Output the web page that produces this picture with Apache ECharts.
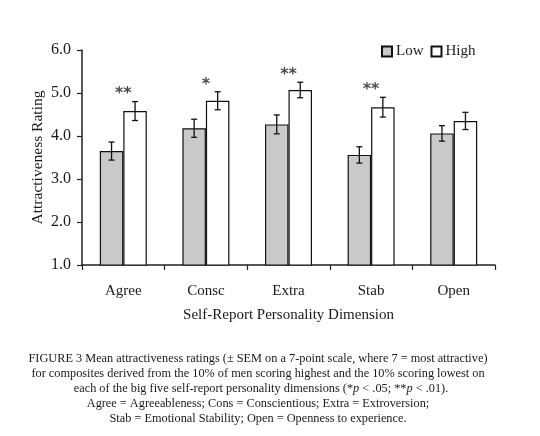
<!DOCTYPE html>
<html>
<head>
    <meta charset="utf-8">
    <title>Attractiveness by personality</title>
    <script src="https://cdn.jsdelivr.net/npm/echarts@6/dist/echarts.min.js"></script>
    <style>
        html, body { margin: 0; padding: 0; background: #fff; }
        #main { width: 540px; height: 436px; }
    </style>
</head>
<body>
<div id="main"></div>
<script>
    var categories = ['Agree', 'Consc', 'Extra', 'Stab', 'Open'];
    var lowMean = [3.65, 4.18, 4.27, 3.56, 4.06];
    var lowSem = [0.21, 0.21, 0.22, 0.19, 0.18];
    var highMean = [4.58, 4.82, 5.07, 4.67, 4.35];
    var highSem = [0.22, 0.21, 0.18, 0.23, 0.2];
    var stars = ['**', '*', '**', '**', ''];
    var yTicks = [1, 2, 3, 4, 5, 6];

    var serif = 'Liberation Serif';
    var barW = 23.5;

    var myChart = echarts.init(document.getElementById('main'));

    // error bar drawn around the centre of the low (-1) or high (+1) bar
    function errorBars(side) {
        return function (params, api) {
            var i = api.value(0);
            var top = api.coord([i, api.value(2)]);
            var bot = api.coord([i, api.value(3)]);
            var x = top[0] + side * barW / 2;
            var cap = 3;
            var st = {stroke: '#111', lineWidth: 1.3};
            return {
                type: 'group',
                children: [
                    {type: 'line', shape: {x1: x, y1: top[1], x2: x, y2: bot[1]}, style: st},
                    {type: 'line', shape: {x1: x - cap, y1: top[1], x2: x + cap, y2: top[1]}, style: st},
                    {type: 'line', shape: {x1: x - cap, y1: bot[1], x2: x + cap, y2: bot[1]}, style: st}
                ]
            };
        };
    }

    var lowErr = lowMean.map(function (m, i) { return [i, m, m + lowSem[i], m - lowSem[i]]; });
    var highErr = highMean.map(function (m, i) { return [i, m, m + highSem[i], m - highSem[i]]; });
    // star sits a little above the top of the high error bar
    var starData = highMean.map(function (m, i) { return [i, m + highSem[i] + 0.17, stars[i]]; });

    var capStyle = {fontFamily: serif, fontSize: 12.3, fontWeight: 'normal', color: '#1a1a1a'};
    function capLine(text, top) {
        return {text: text, left: 253, textAlign: 'center', top: top, textStyle: capStyle};
    }

    myChart.setOption({
        animation: false,
        title: [
            capLine('FIGURE 3 Mean attractiveness ratings (\u00b1 SEM on a 7-point scale, where 7 = most attractive)', 348),
            capLine('for composites derived from the 10% of men scoring highest and the 10% scoring lowest on', 363),
            {
                text: '{n|each of the big five self-report personality dimensions (*}{i|p}{n| < .05; **}{i|p}{n| < .01).}',
                left: 256, textAlign: 'center', top: 378,
                textStyle: {
                    rich: {
                        n: capStyle,
                        i: {fontFamily: serif, fontSize: 12.3, fontWeight: 'normal', color: '#1a1a1a', fontStyle: 'italic'}
                    }
                }
            },
            capLine('Agree = Agreeableness; Cons = Conscientious; Extra = Extroversion;', 393),
            capLine('Stab = Emotional Stability; Open = Openness to experience.', 408)
        ],
        legend: {
            data: ['Low', 'High'],
            left: 376,
            top: 39,
            icon: 'rect',
            itemWidth: 10,
            itemHeight: 10,
            itemGap: 7,
            textStyle: {fontFamily: serif, fontSize: 15, color: '#1a1a1a', padding: [0, 0, 0, -1]}
        },
        grid: {left: 82, right: 45, top: 50, bottom: 171},
        xAxis: {
            type: 'category',
            data: categories,
            name: 'Self-Report Personality Dimension',
            nameLocation: 'middle',
            nameGap: 43,
            nameTextStyle: {fontFamily: serif, fontSize: 15, color: '#1a1a1a'},
            axisLine: {lineStyle: {color: '#222', width: 1.5}},
            axisTick: {show: true, length: 5, lineStyle: {color: '#222', width: 1.2}},
            axisLabel: {fontFamily: serif, fontSize: 15, color: '#1a1a1a', margin: 19}
        },
        yAxis: {
            type: 'value',
            min: yTicks[0],
            max: yTicks[yTicks.length - 1],
            interval: 1,
            name: 'Attractiveness Rating',
            nameLocation: 'middle',
            nameGap: 36,
            nameMoveOverlap: false,
            nameTextStyle: {fontFamily: serif, fontSize: 15.5, color: '#1a1a1a'},
            axisLine: {show: true, lineStyle: {color: '#222', width: 1.5}},
            axisTick: {show: true, length: 5, lineStyle: {color: '#222', width: 1.2}},
            splitLine: {show: false},
            axisLabel: {
                fontFamily: serif, fontSize: 16, color: '#1a1a1a', margin: 11,
                formatter: function (v) { return v.toFixed(1); }
            }
        },
        series: [
            {
                name: 'Low',
                type: 'bar',
                data: lowMean,
                barWidth: barW,
                barGap: '0%',
                itemStyle: {color: '#c8c9c9', borderColor: '#111', borderWidth: 1.2}
            },
            {
                name: 'High',
                type: 'bar',
                data: highMean,
                barWidth: barW,
                barGap: '0%',
                itemStyle: {color: '#fff', borderColor: '#111', borderWidth: 1.2}
            },
            {
                type: 'custom',
                renderItem: errorBars(-1),
                data: lowErr,
                encode: {x: 0, y: [1, 2, 3]},
                z: 5
            },
            {
                type: 'custom',
                renderItem: errorBars(1),
                data: highErr,
                encode: {x: 0, y: [1, 2, 3]},
                z: 5
            },
            {
                type: 'scatter',
                data: starData,
                symbolSize: 0,
                label: {
                    show: true,
                    position: 'inside',
                    formatter: function (p) { return p.value[2]; },
                    fontFamily: 'DejaVu Sans',
                    fontSize: 16,
                    fontWeight: 'bold',
                    color: '#1a1a1a'
                }
            }
        ]
    });
</script>
</body>
</html>
